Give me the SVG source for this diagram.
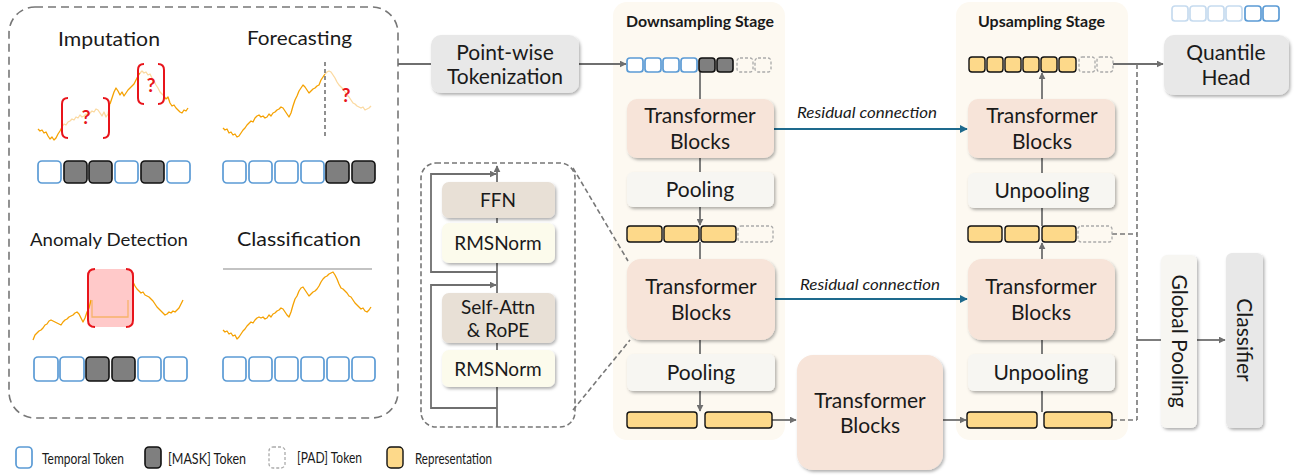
<svg xmlns="http://www.w3.org/2000/svg" width="1294" height="476" viewBox="0 0 1294 476">
<defs>
<style>
.t{font-family:Lato,'Open Sans','DejaVu Sans',sans-serif;fill:#1a1a1a;}
.f20{font-size:20px;}
.f21{font-size:21px;}
.f19{font-size:19px;}
.f17{font-size:17px;}
.stage{font-family:Lato,'Open Sans',sans-serif;font-weight:bold;font-size:15.5px;fill:#1a1a1a;}
.res{font-family:Lato,'Open Sans',sans-serif;font-style:italic;font-size:16px;fill:#1a1a1a;}
.leg{font-family:Lato,'Open Sans',sans-serif;font-size:16px;fill:#1a1a1a;}
.q{font-family:Lato,'Open Sans',sans-serif;font-weight:bold;font-size:19px;fill:#e8141b;}
.tb{fill:#f7e4d9;}
.pool{fill:#f7f6f2;}
.gray{fill:#e8e8e8;}
.ffn{fill:#e8e0d6;}
.rms{fill:#fcfbec;}
.bg{fill:#fdf9f1;}
.tok{fill:#fff;stroke:#5b9bd5;stroke-width:1.7;}
.tokf{fill:#fff;stroke:#c6dbef;stroke-width:1.7;}
.mask{fill:#7f7f7f;stroke:#111;stroke-width:1.6;}
.pad{fill:none;stroke:#aaa;stroke-width:1.3;stroke-dasharray:3 2;}
.rep{fill:#fdd98a;stroke:#111;stroke-width:1.4;}
.ln{stroke:#6f6f6f;stroke-width:1.8;fill:none;}
.dash{stroke:#777;stroke-width:1.6;fill:none;stroke-dasharray:5 3;}
.bigdash{stroke:#777;stroke-width:1.6;fill:none;stroke-dasharray:8 5;}
.blue{stroke:#1e6a8d;stroke-width:1.8;fill:none;}
.ser{stroke:#f5a100;stroke-width:1.3;fill:none;stroke-linejoin:round;}
.serf{stroke:#fbd9a0;stroke-width:1.3;fill:none;stroke-linejoin:round;}
.red{stroke:#e8141b;stroke-width:2;fill:none;}
</style>
<filter id="sh" x="-10%" y="-10%" width="125%" height="130%">
<feDropShadow dx="1.5" dy="2" stdDeviation="1.5" flood-color="#000" flood-opacity="0.3"/>
</filter>
<marker id="ah" viewBox="0 0 10 10" refX="9" refY="5" markerWidth="7" markerHeight="7" orient="auto-start-reverse" markerUnits="userSpaceOnUse">
<path d="M0,0 L10,5 L0,10 z" fill="#6f6f6f"/>
</marker>
<marker id="ahb" viewBox="0 0 10 10" refX="9" refY="5" markerWidth="8" markerHeight="8" orient="auto" markerUnits="userSpaceOnUse">
<path d="M0,0 L10,5 L0,10 z" fill="#1e6a8d"/>
</marker>
</defs>

<g id="downsampling-stage">
<rect class="bg" x="613" y="2" width="172" height="438" rx="14"/>
<text class="stage" x="626" y="27" textLength="148" lengthAdjust="spacingAndGlyphs">Downsampling Stage</text>
</g>
<g id="upsampling-stage">
<rect class="bg" x="956" y="2" width="172" height="438" rx="14"/>
<text class="stage" x="978" y="27" textLength="127" lengthAdjust="spacingAndGlyphs">Upsampling Stage</text>
</g>

<g id="tasks-panel">
<rect class="bigdash" x="9" y="7" width="389" height="411" rx="26"/>
<text class="t f19" x="58" y="46" textLength="102" lengthAdjust="spacingAndGlyphs">Imputation</text>
<path class="ser" d="M38,129 L40,131 42,130 44,133 46,132 48,136 50,139 52,137 54,140 56,138 58,134 60,131 62,127"/>
<path class="serf" d="M62,127 L64,124 66,125 68,122 70,121 72,119 74,120 76,117 78,118 80,115 82,117 84,116 86,114 88,115 90,113 92,111 94,112 96,109 98,110 100,113 102,116 104,112 106,117 108,114 110,104"/>
<path class="ser" d="M110,104 L112,98 114,92 116,88 118,91 120,95 122,92 124,96 126,93 128,90 130,88 132,86 134,84 136,80 138,76 140,73"/>
<path class="serf" d="M140,73 L142,71 144,73 146,72 148,75 150,74 152,78 154,81 156,85 158,88 160,92 162,94 164,96"/>
<path class="ser" d="M164,96 L166,99 168,97 170,103 172,106 174,105 176,108 178,110 180,112 182,113 184,110 186,111 188,108"/>
<path class="red" d="M68,98 Q62,98 62,104 L62,132 Q62,138 68,138"/>
<path class="red" d="M103,98 Q109,98 109,104 L109,132 Q109,138 103,138"/>
<text class="q" x="86" y="124" text-anchor="middle">?</text>
<path class="red" d="M144,64 Q138,64 138,70 L138,98 Q138,104 144,104"/>
<path class="red" d="M158,64 Q164,64 164,70 L164,98 Q164,104 158,104"/>
<text class="q" x="151" y="92" text-anchor="middle">?</text>
<rect class="tok" x="38" y="161" width="23" height="22" rx="4"/>
<rect class="mask" x="64" y="161" width="23" height="22" rx="4"/>
<rect class="mask" x="89" y="161" width="23" height="22" rx="4"/>
<rect class="tok" x="115" y="161" width="23" height="22" rx="4"/>
<rect class="mask" x="141" y="161" width="23" height="22" rx="4"/>
<rect class="tok" x="167" y="161" width="23" height="22" rx="4"/>
<text class="t f19" x="247" y="45" textLength="105" lengthAdjust="spacingAndGlyphs">Forecasting</text>
<path class="ser" d="M223,128 L225,130 227,129 229,133 231,132 233,135 235,134 237,137 239,136 241,133 243,130 245,128 247,125 249,123 251,121 253,122 255,118 257,116 259,115 261,117 263,116 265,118 267,117 269,114 271,116 273,113 275,112 277,110 279,109 281,107 283,108 285,111 287,114 289,117 291,113 293,106 295,100 297,96 299,91 301,88 303,85 305,87 307,90 309,93 311,91 313,89 315,88 317,86 319,85 321,80 323,77 325,74"/>
<path class="serf" d="M325,74 L327,72 329,71 331,72 333,75 335,78 337,82 339,85 341,87 343,89 345,92 347,95 349,97 351,100 353,103 355,104 357,106 359,107 361,108 363,107 365,110 367,109 369,108 371,106"/>
<line x1="325" y1="62" x2="325" y2="139" stroke="#555" stroke-width="1.3" stroke-dasharray="4 3"/>
<text class="q" x="346" y="102" text-anchor="middle">?</text>
<rect class="tok" x="223" y="161" width="23" height="22" rx="4"/>
<rect class="tok" x="249" y="161" width="23" height="22" rx="4"/>
<rect class="tok" x="275" y="161" width="23" height="22" rx="4"/>
<rect class="tok" x="301" y="161" width="23" height="22" rx="4"/>
<rect class="mask" x="326" y="161" width="23" height="22" rx="4"/>
<rect class="mask" x="352" y="161" width="23" height="22" rx="4"/>
<text class="t f17" x="30" y="246" textLength="158" lengthAdjust="spacingAndGlyphs">Anomaly Detection</text>
<rect x="88" y="269" width="45" height="58" rx="6" fill="#ffc9c9"/>
<path class="ser" d="M33,340 L35,335 37,333 39,331 41,330 43,328 45,325 47,324 49,321 51,320 53,321 55,322 57,323 59,324 61,325 63,322 65,320 67,319 69,317 71,316 73,315 75,313 77,312 79,314 81,318 83,322 85,318 87,312 89,308 91,300"/>
<path d="M92,300 L92,317 L128,317 L128,300" stroke="#f7b36a" stroke-width="1.3" fill="none"/>
<path class="ser" d="M133,282 L135,286 137,289 139,291 141,293 143,292 145,295 147,296 149,297 151,299 153,301 155,304 157,307 159,309 161,311 163,313 165,315 167,314 169,312 171,313 173,311 175,312 177,310 179,308 181,304 183,300"/>
<path class="red" d="M95,269 Q88,269 88,276 L88,320 Q88,327 95,327"/>
<path class="red" d="M126,269 Q133,269 133,276 L133,320 Q133,327 126,327"/>
<rect class="tok" x="34" y="357" width="24" height="24" rx="4"/>
<rect class="tok" x="60" y="357" width="24" height="24" rx="4"/>
<rect class="mask" x="86" y="357" width="23" height="24" rx="4"/>
<rect class="mask" x="112" y="357" width="23" height="24" rx="4"/>
<rect class="tok" x="138" y="357" width="23" height="24" rx="4"/>
<rect class="tok" x="164" y="357" width="23" height="24" rx="4"/>
<text class="t f19" x="237" y="246" textLength="124" lengthAdjust="spacingAndGlyphs">Classification</text>
<line x1="223" y1="269" x2="372" y2="269" stroke="#888" stroke-width="1.2"/>
<path class="ser" d="M223,330 L225,332 227,331 229,334 231,333 233,336 235,335 237,339 239,337 241,334 243,331 245,329 247,326 249,324 251,322 253,323 255,320 257,318 259,317 261,318 263,317 265,319 267,318 269,315 271,317 273,314 275,313 277,311 279,310 281,308 283,309 285,312 287,315 289,317 291,312 293,305 295,299 297,296 299,291 301,288 303,287 305,290 307,293 309,296 311,294 313,292 315,291 317,289 319,286 321,282 323,279 325,277 327,276 329,274 331,273 333,272 335,275 337,279 339,284 341,288 343,289 345,291 347,293 349,296 351,297 353,300 355,303 357,305 359,307 361,309 363,308 365,311 367,312 369,310 371,307"/>
<rect class="tok" x="223" y="357" width="23" height="24" rx="4"/>
<rect class="tok" x="249" y="357" width="23" height="24" rx="4"/>
<rect class="tok" x="275" y="357" width="23" height="24" rx="4"/>
<rect class="tok" x="301" y="357" width="23" height="24" rx="4"/>
<rect class="tok" x="327" y="357" width="22" height="24" rx="4"/>
<rect class="tok" x="352" y="357" width="23" height="24" rx="4"/>
</g>

<g id="connectors">
<line class="ln" x1="398" y1="64" x2="431" y2="64"/>
<line class="ln" x1="579" y1="64" x2="626" y2="64" marker-end="url(#ah)"/>
<line class="ln" x1="700" y1="72" x2="700" y2="99"/>
<line class="ln" x1="700" y1="158" x2="700" y2="172"/>
<line class="ln" x1="700" y1="207" x2="700" y2="225" marker-end="url(#ah)"/>
<line class="ln" x1="700" y1="242" x2="700" y2="259"/>
<line class="ln" x1="700" y1="340" x2="700" y2="354"/>
<line class="ln" x1="700" y1="391" x2="700" y2="411" marker-end="url(#ah)"/>
<line class="ln" x1="772" y1="420" x2="796" y2="420" marker-end="url(#ah)"/>
<line class="ln" x1="943" y1="420" x2="966" y2="420" marker-end="url(#ah)"/>
<line class="ln" x1="1042" y1="412" x2="1042" y2="391"/>
<line class="ln" x1="1042" y1="354" x2="1042" y2="340"/>
<line class="ln" x1="1042" y1="259" x2="1042" y2="243" marker-end="url(#ah)"/>
<line class="ln" x1="1042" y1="226" x2="1042" y2="208"/>
<line class="ln" x1="1042" y1="173" x2="1042" y2="158"/>
<line class="ln" x1="1042" y1="99" x2="1042" y2="73" marker-end="url(#ah)"/>
<line class="ln" x1="1113" y1="64" x2="1163" y2="64" marker-end="url(#ah)"/>
<line class="dash" x1="1137" y1="64" x2="1137" y2="420"/>
<line class="dash" x1="1112" y1="234" x2="1137" y2="234"/>
<line class="dash" x1="1112" y1="420" x2="1137" y2="420"/>
<line class="ln" x1="1137" y1="340" x2="1161" y2="340"/>
<line class="ln" x1="1197" y1="340" x2="1225" y2="340" marker-end="url(#ah)"/>
<line class="blue" x1="774" y1="129" x2="967" y2="129" marker-end="url(#ahb)"/>
<text class="res" x="797" y="118" textLength="140" lengthAdjust="spacingAndGlyphs">Residual connection</text>
<line class="blue" x1="775" y1="299" x2="967" y2="299" marker-end="url(#ahb)"/>
<text class="res" x="800" y="290" textLength="140" lengthAdjust="spacingAndGlyphs">Residual connection</text>
<line class="dash" x1="573" y1="168" x2="628" y2="261"/>
<line class="dash" x1="573" y1="410" x2="630" y2="340"/>
</g>

<g id="tokenization">
<rect class="gray" x="431" y="35" width="148" height="58" rx="10" filter="url(#sh)"/>
<text class="t f21" x="505" y="60" text-anchor="middle">Point-wise</text>
<text class="t f21" x="505" y="84" text-anchor="middle">Tokenization</text>
</g>

<g id="block-detail">
<rect class="dash" x="421" y="163" width="154" height="264" rx="15"/>
<line class="ln" x1="497" y1="427" x2="497" y2="166" marker-end="url(#ah)"/>
<path class="ln" d="M497,272 L431,272 L431,174 L496,174" marker-end="url(#ah)"/>
<path class="ln" d="M497,408 L431,408 L431,285 L496,285" marker-end="url(#ah)"/>
<rect class="ffn" x="442" y="182" width="113" height="36" rx="7" filter="url(#sh)"/>
<text class="t f19" x="498" y="207" text-anchor="middle">FFN</text>
<rect class="rms" x="442" y="223" width="113" height="40" rx="7" filter="url(#sh)"/>
<text class="t f19" x="498" y="250" text-anchor="middle">RMSNorm</text>
<rect class="ffn" x="442" y="293" width="113" height="50" rx="7" filter="url(#sh)"/>
<text class="t f19" x="498" y="314" text-anchor="middle">Self-Attn</text>
<text class="t f19" x="498" y="337" text-anchor="middle">&amp; RoPE</text>
<rect class="rms" x="442" y="350" width="113" height="37" rx="7" filter="url(#sh)"/>
<text class="t f19" x="498" y="376" text-anchor="middle">RMSNorm</text>
</g>

<g id="ds-tokens">
<rect class="tok" x="627" y="58" width="16" height="14" rx="3"/>
<rect class="tok" x="645" y="58" width="16" height="14" rx="3"/>
<rect class="tok" x="663" y="58" width="16" height="14" rx="3"/>
<rect class="tok" x="681" y="58" width="16" height="14" rx="3"/>
<rect class="mask" x="699" y="58" width="16" height="14" rx="3"/>
<rect class="mask" x="717" y="58" width="16" height="14" rx="3"/>
<rect class="pad" x="737" y="58" width="16" height="14" rx="3"/>
<rect class="pad" x="755" y="58" width="16" height="14" rx="3"/>
</g>
<g id="ds-tb1">
<rect class="tb" x="627" y="99" width="147" height="59" rx="10" filter="url(#sh)"/>
<text class="t f21" x="700" y="123" text-anchor="middle">Transformer</text>
<text class="t f21" x="700" y="149" text-anchor="middle">Blocks</text>
</g>
<g id="ds-pool1">
<rect class="pool" x="627" y="172" width="147" height="35" rx="6" filter="url(#sh)"/>
<text class="t f21" x="700" y="197" text-anchor="middle">Pooling</text>
</g>
<g id="ds-rep1">
<rect class="rep" x="627" y="226" width="35" height="16" rx="3"/>
<rect class="rep" x="664" y="226" width="35" height="16" rx="3"/>
<rect class="rep" x="701" y="226" width="35" height="16" rx="3"/>
<rect class="pad" x="738" y="226" width="35" height="16" rx="3"/>
</g>
<g id="ds-tb2">
<rect class="tb" x="627" y="259" width="148" height="81" rx="14" filter="url(#sh)"/>
<text class="t f21" x="701" y="294" text-anchor="middle">Transformer</text>
<text class="t f21" x="701" y="320" text-anchor="middle">Blocks</text>
</g>
<g id="ds-pool2">
<rect class="pool" x="627" y="354" width="148" height="37" rx="6" filter="url(#sh)"/>
<text class="t f21" x="701" y="380" text-anchor="middle">Pooling</text>
</g>
<g id="ds-rep2">
<rect class="rep" x="627" y="412" width="70" height="16" rx="3"/>
<rect class="rep" x="705" y="412" width="67" height="16" rx="3"/>
</g>

<g id="bottleneck-tb">
<rect class="tb" x="797" y="355" width="146" height="115" rx="16" filter="url(#sh)"/>
<text class="t f21" x="870" y="408" text-anchor="middle">Transformer</text>
<text class="t f21" x="870" y="433" text-anchor="middle">Blocks</text>
</g>

<g id="us-rep1">
<rect class="rep" x="969" y="57" width="16" height="15" rx="3"/>
<rect class="rep" x="987" y="57" width="16" height="15" rx="3"/>
<rect class="rep" x="1005" y="57" width="16" height="15" rx="3"/>
<rect class="rep" x="1023" y="57" width="16" height="15" rx="3"/>
<rect class="rep" x="1041" y="57" width="16" height="15" rx="3"/>
<rect class="rep" x="1059" y="57" width="17" height="15" rx="3"/>
<rect class="pad" x="1079" y="57" width="16" height="15" rx="3"/>
<rect class="pad" x="1097" y="57" width="16" height="15" rx="3"/>
</g>
<g id="us-tb1">
<rect class="tb" x="968" y="99" width="147" height="59" rx="10" filter="url(#sh)"/>
<text class="t f21" x="1042" y="123" text-anchor="middle">Transformer</text>
<text class="t f21" x="1042" y="149" text-anchor="middle">Blocks</text>
</g>
<g id="us-unpool1">
<rect class="pool" x="968" y="173" width="147" height="35" rx="6" filter="url(#sh)"/>
<text class="t f21" x="1042" y="198" text-anchor="middle">Unpooling</text>
</g>
<g id="us-rep2">
<rect class="rep" x="968" y="226" width="34" height="16" rx="3"/>
<rect class="rep" x="1005" y="226" width="34" height="16" rx="3"/>
<rect class="rep" x="1042" y="226" width="34" height="16" rx="3"/>
<rect class="pad" x="1078" y="226" width="34" height="16" rx="3"/>
</g>
<g id="us-tb2">
<rect class="tb" x="968" y="259" width="147" height="81" rx="14" filter="url(#sh)"/>
<text class="t f21" x="1041" y="294" text-anchor="middle">Transformer</text>
<text class="t f21" x="1041" y="320" text-anchor="middle">Blocks</text>
</g>
<g id="us-unpool2">
<rect class="pool" x="968" y="354" width="147" height="37" rx="6" filter="url(#sh)"/>
<text class="t f21" x="1041" y="380" text-anchor="middle">Unpooling</text>
</g>
<g id="us-rep3">
<rect class="rep" x="967" y="412" width="70" height="16" rx="3"/>
<rect class="rep" x="1044" y="412" width="68" height="16" rx="3"/>
</g>

<g id="output-tokens">
<rect class="tokf" x="1172" y="6" width="16" height="15" rx="3"/>
<rect class="tokf" x="1190" y="6" width="16" height="15" rx="3"/>
<rect class="tokf" x="1208" y="6" width="16" height="15" rx="3"/>
<rect class="tokf" x="1226" y="6" width="16" height="15" rx="3"/>
<rect class="tok" x="1245" y="6" width="16" height="15" rx="3"/>
<rect class="tok" x="1263" y="6" width="16" height="15" rx="3"/>
</g>
<g id="quantile-head">
<rect class="gray" x="1164" y="35" width="125" height="60" rx="10" filter="url(#sh)"/>
<text class="t f21" x="1226" y="60" text-anchor="middle">Quantile</text>
<text class="t f21" x="1226" y="85" text-anchor="middle">Head</text>
</g>
<g id="global-pooling">
<rect class="pool" x="1161" y="255" width="36" height="173" rx="6" filter="url(#sh)"/>
<text class="t f21" transform="translate(1172,341) rotate(90)" text-anchor="middle">Global Pooling</text>
</g>
<g id="classifier">
<rect class="gray" x="1226" y="253" width="37" height="175" rx="6" filter="url(#sh)"/>
<text class="t f21" transform="translate(1237,340) rotate(90)" text-anchor="middle">Classifier</text>
</g>

<g id="legend">
<rect class="tok" x="16" y="447" width="16" height="21" rx="4"/>
<text class="leg" x="42" y="464" textLength="82" lengthAdjust="spacingAndGlyphs">Temporal Token</text>
<rect class="mask" x="145" y="447" width="16" height="21" rx="4"/>
<text class="leg" x="168" y="464" textLength="78" lengthAdjust="spacingAndGlyphs">[MASK] Token</text>
<rect class="pad" x="269" y="447" width="16" height="21" rx="4"/>
<text class="leg" x="297" y="463" textLength="65" lengthAdjust="spacingAndGlyphs">[PAD] Token</text>
<rect class="rep" x="387" y="447" width="16" height="21" rx="4"/>
<text class="leg" x="415" y="464" textLength="77" lengthAdjust="spacingAndGlyphs">Representation</text>
</g>
</svg>
